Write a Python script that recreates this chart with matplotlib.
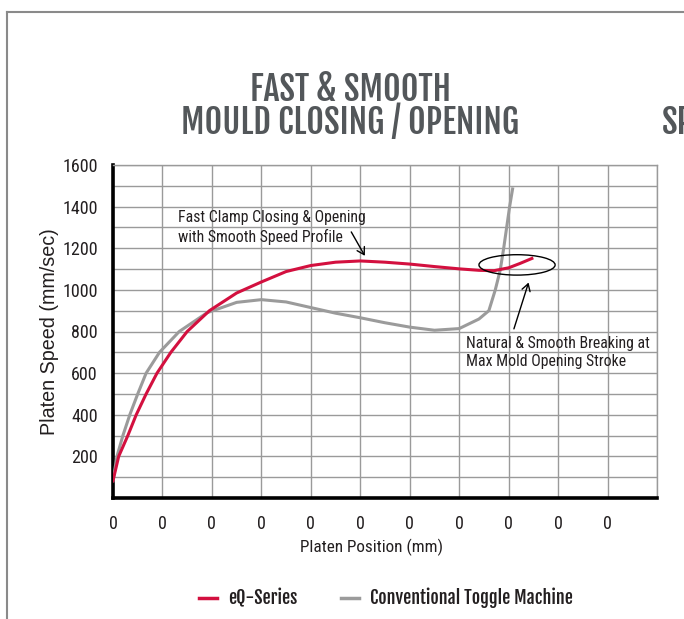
import matplotlib
matplotlib.use('Agg')
import matplotlib.pyplot as plt
from matplotlib.patches import Ellipse
from matplotlib.lines import Line2D

#==============================================================================
# data
#==============================================================================

eq_pos   = [0.0, 0.115, 0.3, 0.47, 0.67, 0.89, 1.17, 1.5, 1.95, 2.5, 3.0, 3.5,
            4.0, 4.5, 5.0, 5.5, 6.0, 6.5, 7.0, 7.4, 7.7, 8.0, 8.23, 8.47]
eq_speed = [83, 200, 300, 400, 500, 600, 700, 800, 900, 985, 1038, 1088,
            1117, 1133, 1139, 1133, 1124, 1112, 1101, 1094, 1092, 1106, 1127, 1151]

conv_pos   = [0.0, 0.08, 0.2, 0.34, 0.5, 0.67, 0.94, 1.34, 1.9, 2.5, 3.0, 3.5,
              4.0, 4.5, 5.0, 5.5, 6.0, 6.5, 7.0, 7.4, 7.6, 7.73, 7.83, 7.9,
              7.96, 8.02, 8.08]
conv_speed = [83, 200, 300, 400, 500, 600, 700, 800, 890, 940, 953, 942,
              915, 888, 866, 842, 821, 806, 814, 860, 900, 1000, 1095, 1200,
              1300, 1400, 1485]

x_ticks       = list(range(0, 11))
x_tick_labels = ['0'] * 11
y_ticks       = [200, 400, 600, 800, 1000, 1200, 1400, 1600]

#==============================================================================
# style
#==============================================================================

eqRed     = '#d3103f'
convGrey  = '#9b9b9b'
gridGrey  = '#9a9a9a'
titleGrey = '#53575a'
txtCol    = '#231f20'

cond  = ['Roboto Condensed', 'DejaVu Sans']
head  = ['Fjalla One', 'Oswald', 'DejaVu Sans']
plain = ['Liberation Sans', 'DejaVu Sans']
plt.rcParams['font.family'] = cond

#==============================================================================
# plot
#==============================================================================

fig = plt.figure(figsize=(6.84, 6.19), dpi=100)
ax = fig.add_axes([113/684, 1-498/619, 544/684, 333/619])

ax.set_xlim(0, 11)
ax.set_ylim(0, 1600)

for xv in range(0, 12):
    ax.axvline(xv, color=gridGrey, lw=1.0, zorder=0)
for yv in range(0, 1700, 100):
    ax.axhline(yv, color=gridGrey, lw=1.0, zorder=0)

ax.plot(conv_pos, conv_speed, color=convGrey, lw=2.2, zorder=3)
ax.plot(eq_pos, eq_speed, color=eqRed, lw=2.2, zorder=4)

ax.set_xticks(x_ticks)
ax.set_xticklabels(x_tick_labels)
ax.set_yticks(y_ticks)
ax.tick_params(length=0, labelsize=13, colors=txtCol)
ax.tick_params(axis='y', pad=11)
ax.tick_params(axis='x', pad=12)

for s in ['left', 'bottom']:
    ax.spines[s].set_linewidth(2.6)
    ax.spines[s].set_color('k')
for s in ['top', 'right']:
    ax.spines[s].set_linewidth(1.0)
    ax.spines[s].set_color(gridGrey)

ax.set_xlabel('Platen Position (mm)', fontsize=12.3, color=txtCol)
ax.xaxis.set_label_coords((372-113)/544, -0.122)
ax.set_ylabel('Platen Speed (mm/sec)', fontsize=14.2, color=txtCol,
              family=plain, labelpad=2)

# annotations
arrow_style = dict(arrowstyle='->,head_length=0.5,head_width=0.3', color='k', lw=1.0)
ax.text(1.31, 1300, 'Fast Clamp Closing & Opening\nwith Smooth Speed Profile',
        fontsize=11.3, color=txtCol, va='center', ha='left', linespacing=1.25)
ax.annotate('', xy=(5.12, 1152), xytext=(4.79, 1290), arrowprops=arrow_style)

ax.add_patch(Ellipse((8.17, 1120), 1.54, 98, fill=False, ec='k', lw=1.0, zorder=5))
ax.annotate('', xy=(8.42, 1048), xytext=(8.09, 800), arrowprops=arrow_style)
ax.text(7.13, 700, 'Natural & Smooth Breaking at\nMax Mold Opening Stroke',
        fontsize=11.3, color=txtCol, va='center', ha='left', linespacing=1.25)

# title
fig.text(350/684, 1-101/619, 'FAST & SMOOTH', ha='center', va='baseline',
         fontsize=24.5, color=titleGrey, family=head)
fig.text(350/684, 1-134/619, 'MOULD CLOSING / OPENING', ha='center', va='baseline',
         fontsize=24.5, color=titleGrey, family=head)
fig.text(662/684, 1-134/619, 'SPEED', ha='left', va='baseline', fontsize=24.5,
         color=titleGrey, family=head)

# frame lines
fig.add_artist(Line2D([7/684, 1], [1-12/619, 1-12/619], color='#8a8a8a', lw=1.5))
fig.add_artist(Line2D([7/684, 7/684], [0, 1-12/619], color='#8a8a8a', lw=1.5))

# legend
handles = [Line2D([], [], color=eqRed, lw=2.5),
           Line2D([], [], color=convGrey, lw=2.5)]
fig.legend(handles, ['eQ-Series', 'Conventional Toggle Machine'],
           loc='center', bbox_to_anchor=(386/684, 1-598/619), ncol=2,
           frameon=False, handlelength=1.0, handletextpad=0.6,
           columnspacing=2.4, labelcolor=txtCol,
           prop={'family': head, 'size': 13})

fig.savefig('out.png', dpi=100)
